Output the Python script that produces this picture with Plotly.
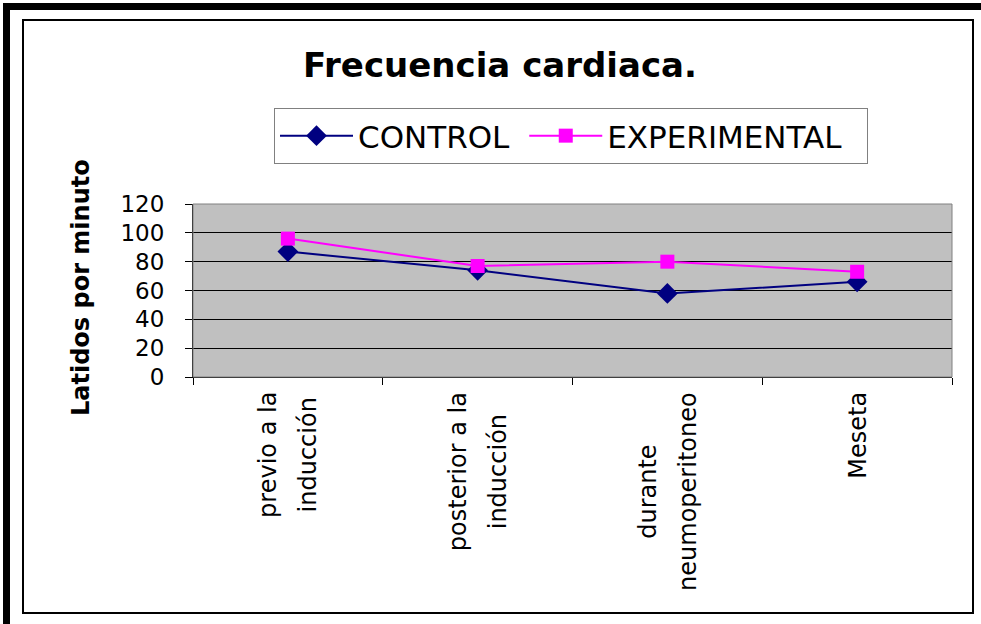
import plotly.graph_objects as go

W, H = 981, 624
PLOT_L, PLOT_R, PLOT_T, PLOT_B = 193, 952, 204, 377

categories = ["previo a la inducción", "posterior a la inducción",
              "durante neumoperitoneo", "Meseta"]
category_lines = [["previo a la", "inducción"],
                  ["posterior a la", "inducción"],
                  ["durante", "neumoperitoneo"],
                  ["Meseta"]]
series_names = ["CONTROL", "EXPERIMENTAL"]
control = [87, 74, 58, 66]
experimental = [96, 77, 80, 73]
y_ticks = [0, 20, 40, 60, 80, 100, 120]

FONT = "DejaVu Sans"
NBSP = "\u00a0"


def px_x(px):
    """pixel column -> paper x"""
    return (px - PLOT_L) / (PLOT_R - PLOT_L)


def px_y(py):
    """pixel row -> paper y"""
    return (PLOT_B - py) / (PLOT_B - PLOT_T)


def rect(x0, y0, x1, y1, **kw):
    return dict(type="rect", xref="paper", yref="paper",
                x0=px_x(x0), x1=px_x(x1), y0=px_y(y0), y1=px_y(y1),
                layer="above", **kw)


fig = go.Figure()
# trailing nbsp just to widen the legend entries like the original
fig.add_trace(go.Scatter(
    x=categories, y=control, name=series_names[0] + NBSP,
    mode="lines+markers",
    line=dict(color="#000080", width=2),
    marker=dict(symbol="diamond", size=16, color="#000080"),
))
fig.add_trace(go.Scatter(
    x=categories, y=experimental, name=series_names[1] + NBSP * 2,
    mode="lines+markers",
    line=dict(color="#FF00FF", width=2),
    marker=dict(symbol="square", size=14, color="#FF00FF"),
))

# category labels, rotated, lines centred with wide spacing
annotations = []
for cat, lines in zip(categories, category_lines):
    txt = "<br>".join(f"<span style='font-size:24px'>{s}</span>" for s in lines)
    annotations.append(dict(
        x=cat, xref="x", y=0, yref="paper", yanchor="top", xanchor="center",
        yshift=-13, text=txt, textangle=-90, align="center", showarrow=False,
        font=dict(family=FONT, size=31, color="black"),
    ))

annotations.append(dict(
    x=px_x(81), xref="paper", y=px_y(288), yref="paper",
    xanchor="center", yanchor="middle",
    text="<b>Latidos por minuto</b>", textangle=-90, showarrow=False,
    font=dict(family=FONT, size=24, color="black"),
))

shapes = [
    rect(3, 3, W, 10, fillcolor="black", line=dict(width=0)),
    rect(3, 3, 10, H, fillcolor="black", line=dict(width=0)),
    rect(23, 20, 973, 613, line=dict(color="black", width=2)),
    rect(PLOT_L, PLOT_T, PLOT_R, PLOT_B, line=dict(color="#808080", width=1)),
]

fig.update_layout(
    width=W, height=H,
    margin=dict(l=PLOT_L, r=W - PLOT_R, t=PLOT_T, b=H - PLOT_B),
    paper_bgcolor="white", plot_bgcolor="#C0C0C0",
    font=dict(family=FONT, color="black"),
    title=dict(text="<b>Frecuencia cardiaca.</b>", x=500 / W, xanchor="center",
               y=1 - 65 / H, yanchor="middle",
               font=dict(family=FONT, size=34, color="black")),
    legend=dict(orientation="h", x=px_x(274), y=px_y(108), xanchor="left",
                yanchor="top", bordercolor="#808080", borderwidth=1,
                bgcolor="white", font=dict(family=FONT, size=31),
                itemwidth=73, tracegroupgap=0),
    showlegend=True,
    annotations=annotations,
    shapes=shapes,
)

fig.update_xaxes(
    type="category", range=[-0.5, 3.5], showticklabels=False,
    tickson="boundaries", ticks="outside", ticklen=7, tickcolor="black",
    showline=True, linecolor="black", linewidth=1, showgrid=False,
    zeroline=False,
)
fig.update_yaxes(
    range=[0, 120], tickvals=y_ticks, ticks="outside", ticklen=7,
    tickcolor="black", ticklabelstandoff=16,
    tickfont=dict(family=FONT, size=23, color="black"),
    showline=True, linecolor="black", linewidth=1,
    showgrid=True, gridcolor="black", gridwidth=1, zeroline=False,
)

fig.write_html("out.html", config={"displayModeBar": False},
               post_script="document.body.style.margin = '0';")
